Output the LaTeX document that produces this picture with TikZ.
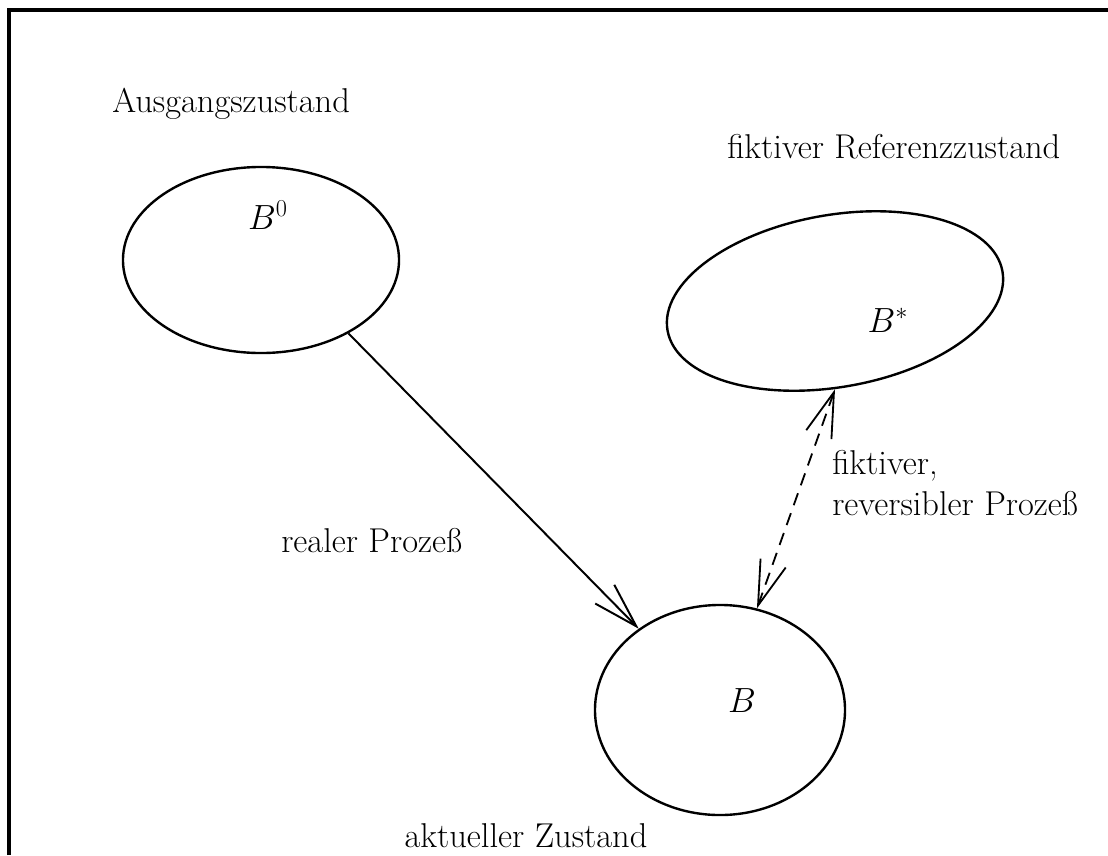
\documentclass[tikz,border=0pt]{standalone}
\usetikzlibrary{positioning,arrows.meta,shapes.geometric}

\begin{document}
\begin{tikzpicture}[
    x=0.025cm, y=-0.025cm,
    state/.style={
        ellipse,
        draw=black,
        line width=1.7pt,
        inner sep=0pt
    },
    txt/.style={
        inner sep=0pt,
        font=\fontsize{24.5}{29}\selectfont
    },
    arrow/.style={
        -{Straight Barb[length=32pt,width=19pt]},
        line width=1.4pt
    },
    fikt/.style={
        {Straight Barb[length=32pt,width=19pt]}-{Straight Barb[length=32pt,width=19pt]},
        line width=1.3pt,
        dash pattern=on 9pt off 6pt
    }
]
\useasboundingbox (0,0) rectangle (1108,855);

% Frame
\draw[line width=2.4pt] (9,855) |- (1108,10);

% States
\node[state, minimum width=6.9cm, minimum height=4.65cm] (start) at (261,260) {};
\node[state, minimum width=6.25cm, minimum height=5.25cm] (current) at (720,710) {};
\node[state, minimum width=8.5cm, minimum height=4.3cm, rotate=10] (ref) at (835,301) {};

% State symbols
\node[txt] (startsym) at (268,215) {$B^0$};
\node[txt] (currentsym) at (742,701) {$B$};
\node[txt] (refsym) at (888,320) {$B^*$};

% State names
\node[txt, anchor=base west] (startname) at (112,112) {Ausgangszustand};
\node[txt, anchor=base west] (refname) at (727,158) {fiktiver Referenzzustand};
\node[txt, anchor=base] (currentname) at (526,847) {aktueller Zustand};

% Processes
\draw[arrow] (start.-40) -- (current.135);
\draw[fikt] (current.70) -- (ref.260);

\node[txt, anchor=base west] (reallbl) at (281,552) {realer Proze\ss};
\node[txt, anchor=north west, align=left] (fiktlbl) at (832,450) {fiktiver,\\reversibler Proze\ss};

\end{tikzpicture}
\end{document}
